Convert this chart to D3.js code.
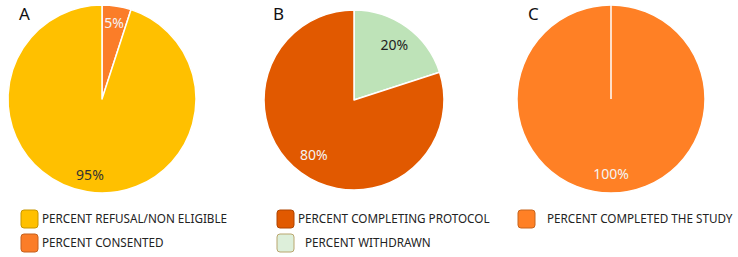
<!DOCTYPE html>
<html>
<head>
<meta charset="utf-8">
<script src="https://cdn.jsdelivr.net/npm/d3@7"></script>
<style>
  body { margin: 0; background: #fff; }
  text { font-family: "Noto Sans", "Open Sans", sans-serif; }
</style>
</head>
<body>
<div id="chart"></div>
<script>
// Panel letters
const panels = ["A", "B", "C"];

// Slices of each pie, in clockwise order from 12 o'clock
const seriesA = [
  { name: "PERCENT CONSENTED", value: 5 },
  { name: "PERCENT REFUSAL/NON ELIGIBLE", value: 95 }
];
const seriesB = [
  { name: "PERCENT WITHDRAWN", value: 20 },
  { name: "PERCENT COMPLETING PROTOCOL", value: 80 }
];
const seriesC = [
  { name: "PERCENT COMPLETED THE STUDY", value: 100 }
];

// Legend entries, in the order they are listed under each pie
const legendA = ["PERCENT REFUSAL/NON ELIGIBLE", "PERCENT CONSENTED"];
const legendB = ["PERCENT COMPLETING PROTOCOL", "PERCENT WITHDRAWN"];
const legendC = ["PERCENT COMPLETED THE STUDY"];

const width = 738, height = 257;

// Colours
const sliceColor = {
  "PERCENT REFUSAL/NON ELIGIBLE": "#FFC000",
  "PERCENT CONSENTED": "#FB7D28",
  "PERCENT COMPLETING PROTOCOL": "#E15900",
  "PERCENT WITHDRAWN": "#BEE3B8",
  "PERCENT COMPLETED THE STUDY": "#FF8025"
};
const legendFill = {
  "PERCENT WITHDRAWN": "#DDEFDA"
};
const labelColor = {
  "PERCENT REFUSAL/NON ELIGIBLE": "#333",
  "PERCENT CONSENTED": "#f4f4f4",
  "PERCENT COMPLETING PROTOCOL": "#f4f4f4",
  "PERCENT WITHDRAWN": "#222",
  "PERCENT COMPLETED THE STUDY": "#f4f4f4"
};

const svg = d3.select("#chart")
  .append("svg")
  .attr("width", width)
  .attr("height", height);

// Where each pie sits
const layout = [
  { cx: 102, cy: 99, r: 94, labelR: 0.82, lx: 21, textX: 42, indent: [0, 0] },
  { cx: 354, cy: 100, r: 90, labelR: 0.76, lx: 277, textX: 298, indent: [0, 7] },
  { cx: 611, cy: 99, r: 94, labelR: 0.8, lx: 518, textX: 547, indent: [0] }
];
const allSeries = [seriesA, seriesB, seriesC];
const allLegends = [legendA, legendB, legendC];

const pie = d3.pie().sort(null).value(d => d.value);

allSeries.forEach((series, i) => {
  const L = layout[i];
  const g = svg.append("g")
    .attr("transform", `translate(${L.cx},${L.cy})`);

  const arc = d3.arc().innerRadius(0).outerRadius(L.r);
  const labelArc = d3.arc().innerRadius(L.r * L.labelR).outerRadius(L.r * L.labelR);
  const arcs = pie(series);

  g.selectAll("path")
    .data(arcs)
    .enter().append("path")
    .attr("d", arc)
    .attr("fill", d => sliceColor[d.data.name])
    .attr("stroke", "#fff")
    .attr("stroke-width", 1.5)
    .attr("stroke-linejoin", "round");

  // a single full slice still shows its edge at the start angle
  if (arcs.length === 1) {
    const a = arcs[0].startAngle;
    g.append("line")
      .attr("x1", 0).attr("y1", 0)
      .attr("x2", Math.sin(a) * L.r).attr("y2", -Math.cos(a) * L.r)
      .attr("stroke", "#fff")
      .attr("stroke-width", 1.5);
  }

  g.selectAll(".lbl")
    .data(arcs)
    .enter().append("text")
    .attr("class", "lbl")
    .attr("transform", d => `translate(${labelArc.centroid(d)})`)
    .attr("text-anchor", "middle")
    .attr("dy", "0.35em")
    .style("font-size", "14px")
    .attr("fill", d => labelColor[d.data.name])
    .text(d => d.data.value + "%");

  // panel letter
  svg.append("text")
    .attr("x", L.cx - L.r + (i === 1 ? 9 : 11))
    .attr("y", 20)
    .style("font-size", "17px")
    .attr("fill", "#111")
    .text(panels[i]);

  // legend
  const leg = svg.append("g");
  allLegends[i].forEach((name, j) => {
    const y = 210 + j * 24;
    leg.append("rect")
      .attr("x", L.lx).attr("y", y)
      .attr("width", 17).attr("height", 18)
      .attr("rx", 3)
      .attr("fill", legendFill[name] || sliceColor[name])
      .attr("stroke", name === "PERCENT WITHDRAWN" ? "#B9A66E" : d3.color(sliceColor[name]).darker(0.7))
      .attr("stroke-width", 1);
    leg.append("text")
      .attr("x", L.textX + L.indent[j])
      .attr("y", y + 9)
      .attr("dy", "0.35em")
      .style("font-size", "11.7px")
      .attr("fill", "#222")
      .text(name);
  });
});
</script>
</body>
</html>
